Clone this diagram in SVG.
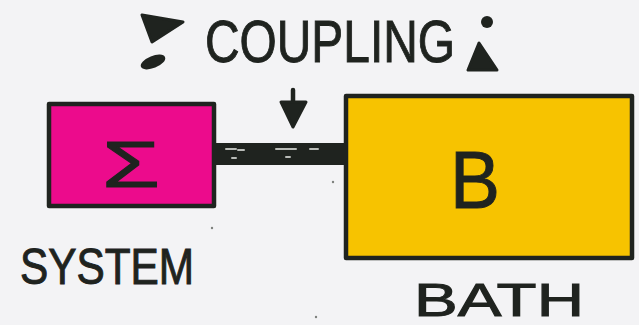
<svg xmlns="http://www.w3.org/2000/svg" width="639" height="325" viewBox="0 0 639 325">
  <style>
    .ink { fill: none; stroke: #1f231f; stroke-width: 4.5; stroke-linejoin: round; stroke-linecap: round; }
    .blob { fill: #1f231f; }
    .hand { font-family: "Liberation Sans", "DejaVu Sans", sans-serif; fill: #1f231f; stroke: #1f231f; stroke-width: 1; }
    .dash { stroke: #b9bcb8; stroke-width: 2; stroke-linecap: round; }
  </style>
  <rect x="0" y="0" width="639" height="325" fill="#f3f3f5"/>

  <g id="system">
    <rect x="49" y="104" width="165" height="102" fill="#ec0b8c"/>
    <rect x="49" y="104" width="165" height="102" class="ink"/>
    <text x="131" y="187" class="hand" font-size="64" text-anchor="middle" textLength="58" lengthAdjust="spacingAndGlyphs">Σ</text>
  </g>

  <g id="bath">
    <rect x="346" y="96" width="286" height="162" fill="#f7c300"/>
    <rect x="346" y="96" width="286" height="162" class="ink"/>
    <text x="475" y="208" class="hand" font-size="82" text-anchor="middle" textLength="50" lengthAdjust="spacingAndGlyphs">B</text>
  </g>

  <g id="connectors">
    <rect x="215" y="143" width="131" height="22" fill="#1f231f"/>
    <line x1="226" y1="149" x2="236" y2="149" class="dash"/>
    <line x1="238" y1="150" x2="244" y2="150" class="dash"/>
    <line x1="276" y1="149" x2="296" y2="149" class="dash"/>
    <line x1="310" y1="149" x2="318" y2="149" class="dash"/>
    <line x1="232" y1="158" x2="236" y2="158" class="dash"/>
    <line x1="286" y1="157" x2="290" y2="157" class="dash"/>
    <g id="coupling-arrow">
      <line x1="293" y1="90" x2="293" y2="112" class="ink"/>
      <polygon points="281,102 306,102 293,127" class="blob" stroke="#1f231f" stroke-width="3" stroke-linejoin="round"/>
    </g>
  </g>

  <g id="labels">
    <text x="205" y="62" class="hand" font-size="60" textLength="250" lengthAdjust="spacingAndGlyphs">COUPLING</text>
    <text x="20" y="284" class="hand" font-size="50" textLength="174" lengthAdjust="spacingAndGlyphs">SYSTEM</text>
    <text x="414" y="316" class="hand" font-size="47" textLength="170" lengthAdjust="spacingAndGlyphs">BATH</text>
  </g>

  <g id="decorations">
    <polygon points="142,15 183,22 152,42" class="blob" stroke="#1f231f" stroke-width="3" stroke-linejoin="round"/>
    <ellipse cx="153" cy="62" rx="13" ry="6" transform="rotate(-22 153 62)" class="blob"/>
    <circle cx="487" cy="22" r="6" class="blob"/>
    <polygon points="479,43 468,70 497,70" class="blob" stroke="#1f231f" stroke-width="3" stroke-linejoin="round"/>
    <circle cx="212" cy="228" r="1.2" fill="#7d807d"/>
    <circle cx="333" cy="182" r="1.2" fill="#7d807d"/>
    <circle cx="316" cy="317" r="1.2" fill="#7d807d"/>
  </g>
</svg>
